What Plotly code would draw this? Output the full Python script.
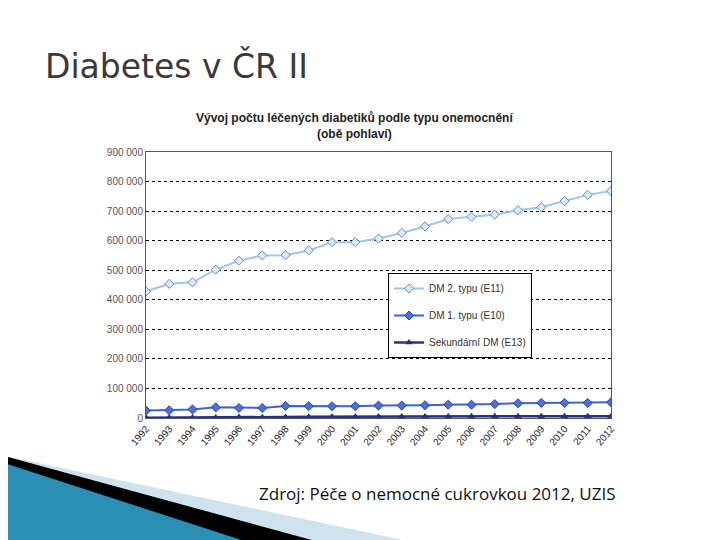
import plotly.graph_objects as go

years = [str(y) for y in range(1992, 2013)]
dm2 = [428000, 454000, 459000, 502000, 532000, 550000, 551000, 567000, 595000, 595000, 607000,
       626000, 648000, 673000, 681000, 688000, 703000, 713000, 734000, 755000, 768000]
dm1 = [25000, 26000, 29000, 36000, 34000, 34000, 41000, 40000, 40000, 40000, 42000,
       42000, 43000, 45000, 45000, 47000, 50000, 51000, 51000, 51000, 53000]
e13 = [1000, 1000, 1500, 2000, 3000, 2500, 3500, 4000, 4500, 4500, 5000,
       5000, 5000, 5000, 5500, 5500, 5500, 5500, 6000, 6000, 6000]
ytick_vals = list(range(0, 900001, 100000))
ytick_text = ["0"] + [f"{v//1000} 000" for v in ytick_vals[1:]]

OX, OY = 7, 8
L, R, T, B = 145 - OX, 610 - OX, 152 - OY, 418 - OY
def px(x): return (x - OX - L) / (R - L)
def py(y): return (B - (y - OY)) / (B - T)

fig = go.Figure()
fig.add_trace(go.Scatter(x=years, y=dm2, name="DM 2. typu (E11)", mode="lines+markers",
    line=dict(color="#9fc5ea", width=2), legendgroup="a",
    marker=dict(symbol="diamond", size=7, color="#dfeaf8", line=dict(color="#5b8fd6", width=1))))
fig.add_trace(go.Scatter(x=years, y=dm1, name="DM 1. typu (E10)", mode="lines+markers",
    line=dict(color="#3f62d0", width=2), legendgroup="b",
    marker=dict(symbol="diamond", size=7, color="#4a6fe0", line=dict(color="#2a45a8", width=1))))
fig.add_trace(go.Scatter(x=years, y=e13, name="Sekundární DM (E13)", mode="lines+markers",
    line=dict(color="#27307f", width=2.5), legendgroup="c",
    marker=dict(symbol="triangle-up", size=7, color="#27307f")))

shapes = [
    dict(type="path", xref="paper", yref="paper", layer="above", line=dict(width=0),
         fillcolor="#cfe3ee",
         path=f"M {px(0)},{py(455)} L {px(440)},{py(548)} L {px(0)},{py(548)} Z"),
    dict(type="path", xref="paper", yref="paper", layer="above", line=dict(width=0),
         fillcolor="#000000",
         path=f"M {px(0)},{py(455)} L {px(340)},{py(548)} L {px(0)},{py(548)} Z"),
    dict(type="path", xref="paper", yref="paper", layer="above", line=dict(width=0),
         fillcolor="#2a8fb3",
         path=f"M {px(0)},{py(462)} L {px(265)},{py(548)} L {px(0)},{py(548)} Z"),
]

fig.update_layout(
    width=720, height=540, paper_bgcolor="white", plot_bgcolor="white",
    margin=dict(l=L, r=720 - R, t=T, b=540 - B),
    showlegend=True, shapes=shapes,
    legend=dict(x=px(387), y=py(273), xanchor="left", yanchor="top",
                bordercolor="black", borderwidth=1, bgcolor="white",
                font=dict(family="Arial", size=10, color="#333"),
                tracegroupgap=8, traceorder="grouped"),
    xaxis=dict(type="category", tickangle=-50, showgrid=False, showline=True, mirror=True,
               linecolor="#555", tickfont=dict(family="Arial", size=10, color="#222"),
               range=[0, 20]),
    yaxis=dict(range=[0, 900000], tickvals=ytick_vals, ticktext=ytick_text,
               showgrid=True, gridcolor="black", griddash="dot", gridwidth=1.2,
               showline=True, mirror=True, linecolor="#555", zeroline=False,
               tickfont=dict(family="Arial", size=10, color="#555")),
    annotations=[
        dict(text="Diabetes v ČR II", xref="paper", yref="paper", x=px(42), y=py(66),
             xanchor="left", yanchor="middle", showarrow=False,
             font=dict(family="DejaVu Sans", size=33, color="#3a3a3a")),
        dict(text="<b>Vývoj počtu léčených diabetiků podle typu onemocnění<br>(obě pohlaví)</b>",
             xref="paper", yref="paper", x=px(353), y=py(126), xanchor="center", yanchor="middle",
             showarrow=False, font=dict(family="Arial", size=12, color="#222")),
        dict(text="Zdroj: Péče o nemocné cukrovkou 2012, UZIS", xref="paper", yref="paper",
             x=px(256), y=py(494), xanchor="left", yanchor="middle", showarrow=False,
             font=dict(family="Open Sans", size=17, color="#111")),
    ],
)
fig.write_html("out.html")
